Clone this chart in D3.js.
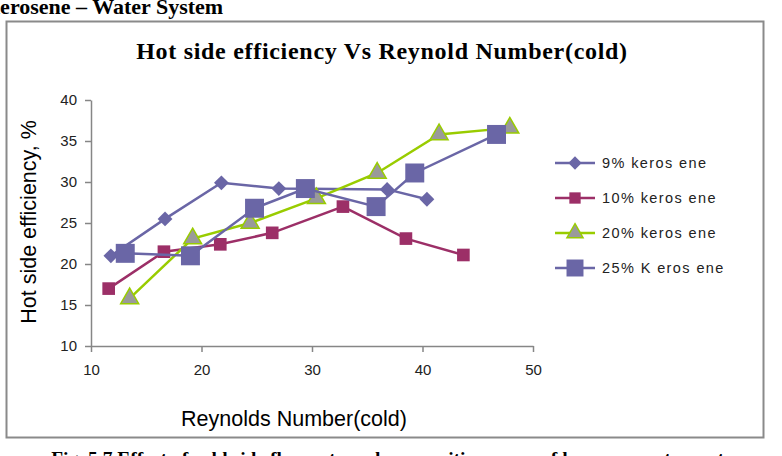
<!DOCTYPE html>
<html>
<head>
<script src="https://d3js.org/d3.v7.min.js"></script>
<style>
  body { margin: 0; background: #fff; }
  .tick text { font-family: "Liberation Sans", Arial, sans-serif; font-size: 15px; fill: #222; }
  .axis path, .axis line { stroke: #868686; stroke-width: 1.5px; }
</style>
</head>
<body>
<script>
// values
var seriesNames = ["9%  keros ene", "10%  keros ene", "20%  keros ene", "25%  K eros ene"];
var re9  = [11.8, 16.7, 21.8, 27.0, 36.8, 40.4];
var eff9 = [21.0, 25.5, 29.9, 29.2, 29.1, 27.9];
var re10  = [11.6, 16.6, 21.7, 26.4, 32.8, 38.5, 43.7];
var eff10 = [17.0, 21.5, 22.4, 23.8, 27.0, 23.1, 21.1];
var re20  = [13.5, 19.2, 24.4, 30.4, 35.9, 41.5, 47.9];
var eff20 = [15.8, 23.1, 25.0, 28.0, 31.1, 35.8, 36.6];
var re25  = [13.1, 19.0, 24.8, 29.4, 35.8, 39.3, 46.7];
var eff25 = [21.3, 21.0, 26.8, 29.2, 27.0, 31.1, 35.8];
var xTicks = [10, 20, 30, 40, 50];
var yTicks = [10, 15, 20, 25, 30, 35, 40];

var W = 782, H = 456;
var svg = d3.select("body").append("svg").attr("width", W).attr("height", H);

var serif = "'Liberation Serif', 'Times New Roman', serif";
var sans = "'Liberation Sans', Arial, sans-serif";

// page text around the figure (cut by the page edges, as in the source)
svg.append("text").attr("x", -17).attr("y", 14)
    .style("font-family", serif).style("font-weight", "bold").style("font-size", "22px")
    .text("Kerosene \u2013 Water System");

svg.append("rect").attr("x", 6.5).attr("y", 21.5).attr("width", 757).attr("height", 416)
    .attr("fill", "#fff").attr("stroke", "#8a8a8a").attr("stroke-width", 2);

svg.append("text").attr("x", 400).attr("y", 465)
    .attr("text-anchor", "middle")
    .style("font-family", serif).style("font-weight", "bold").style("font-size", "19.5px")
    .text("Fig. 5.7 Effect of cold side flow rate and composition on \u03b7c of kerosene water system");

svg.append("text").attr("x", 382).attr("y", 59)
    .attr("text-anchor", "middle")
    .style("font-family", serif).style("font-weight", "bold").style("font-size", "24px")
    .style("letter-spacing", "0.7px")
    .text("Hot side efficiency Vs Reynold Number(cold)");

var x = d3.scaleLinear().domain([10, 50]).range([91, 533]);
var y = d3.scaleLinear().domain([10, 40]).range([346, 100]);

svg.append("g").attr("class", "axis")
    .attr("transform", "translate(91,0)")
    .call(d3.axisLeft(y).tickValues(yTicks).tickSize(6).tickSizeOuter(0).tickPadding(8));

svg.append("g").attr("class", "axis")
    .attr("transform", "translate(0,346)")
    .call(d3.axisBottom(x).tickValues(xTicks).tickSize(6).tickSizeOuter(0).tickPadding(12));

svg.append("text")
    .attr("transform", "translate(36,222) rotate(-90)")
    .attr("text-anchor", "middle")
    .style("font-family", sans).style("font-size", "21.5px")
    .text("Hot side efficiency, %");

svg.append("text").attr("x", 294).attr("y", 426)
    .attr("text-anchor", "middle")
    .style("font-family", sans).style("font-size", "21.5px")
    .text("Reynolds Number(cold)");

var diamond = {
    draw: function (ctx, size) {
        var r = Math.sqrt(size / 2);
        ctx.moveTo(0, -r); ctx.lineTo(r, 0); ctx.lineTo(0, r); ctx.lineTo(-r, 0); ctx.closePath();
    }
};

var series = [
    { xs: re9,  ys: eff9,  line: "#6a66a6", fill: "#6a66a6", stroke: "none",    shape: diamond,          size: 110 },
    { xs: re10, ys: eff10, line: "#9c2f67", fill: "#9c2f67", stroke: "none",    shape: d3.symbolSquare,  size: 160 },
    { xs: re20, ys: eff20, line: "#99cc00", fill: "#9a9a9a", stroke: "#99cc00", shape: d3.symbolTriangle, size: 140 },
    { xs: re25, ys: eff25, line: "#6a66a6", fill: "#6a66a6", stroke: "none",    shape: d3.symbolSquare,  size: 360 }
];

var line = d3.line().x(function (d) { return x(d[0]); }).y(function (d) { return y(d[1]); });

series.forEach(function (s) {
    var pts = s.xs.map(function (v, i) { return [v, s.ys[i]]; });
    var g = svg.append("g");
    g.append("path").datum(pts).attr("d", line)
        .attr("fill", "none").attr("stroke", s.line).attr("stroke-width", 2.5);
    g.selectAll("path.m").data(pts).enter().append("path").attr("class", "m")
        .attr("transform", function (d) { return "translate(" + x(d[0]) + "," + y(d[1]) + ")"; })
        .attr("d", d3.symbol().type(s.shape).size(s.size))
        .attr("fill", s.fill).attr("stroke", s.stroke).attr("stroke-width", 1.5);
});

// legend
var legend = svg.append("g").selectAll("g").data(series).enter().append("g")
    .attr("transform", function (d, i) { return "translate(555," + (163 + i * 35) + ")"; });
legend.append("line").attr("x1", 0).attr("x2", 40)
    .attr("stroke", function (d) { return d.line; }).attr("stroke-width", 2.5);
legend.append("path").attr("transform", "translate(20,0)")
    .attr("d", function (d) { return d3.symbol().type(d.shape).size(d.size * 0.8)(); })
    .attr("fill", function (d) { return d.fill; })
    .attr("stroke", function (d) { return d.stroke; }).attr("stroke-width", 1.5);
legend.append("text").attr("x", 47).attr("dy", "0.35em")
    .style("font-family", sans).style("font-size", "14.5px")
    .style("letter-spacing", "1.4px").style("fill", "#222")
    .text(function (d, i) { return seriesNames[i]; });
</script>
</body>
</html>
